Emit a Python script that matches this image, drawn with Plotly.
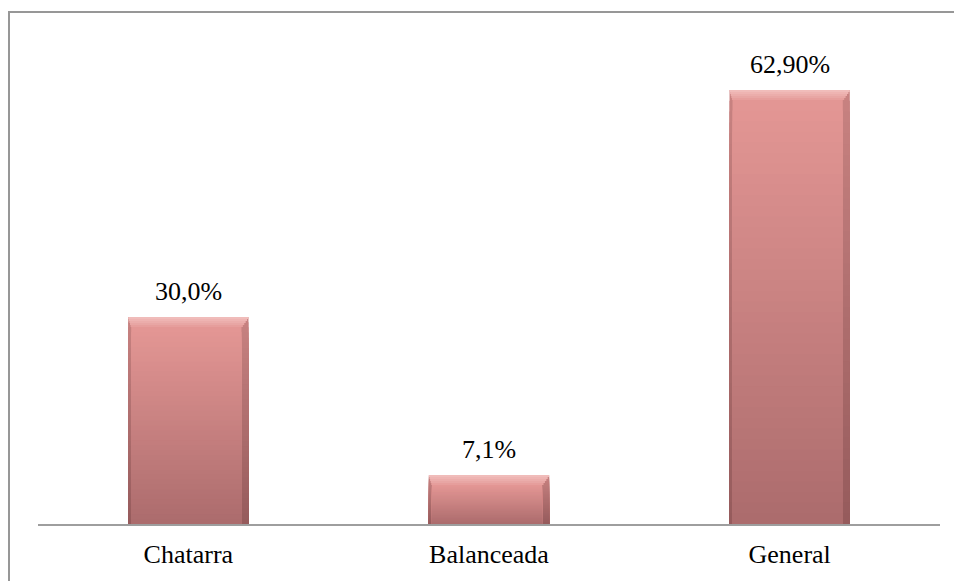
import plotly.graph_objects as go

categories = ["Chatarra", "Balanceada", "General"]
values = [30.0, 7.1, 62.9]
value_labels = ["30,0%", "7,1%", "62,90%"]

# Layout geometry (pixels)
W, H = 954, 581
M_L, M_R, M_T, M_B = 38, 14, 34, 57
PLOT_W = W - M_L - M_R
PLOT_H = H - M_T - M_B
Y_MAX = 71.0
PX_PER_UNIT = PLOT_H / Y_MAX
CAT_PX = PLOT_W / len(categories)

SERIF = "Liberation Serif"
FONT_SIZE = 26

BAR_W = 0.40
LEFT_PX, RIGHT_PX = 3, 7
TOP_PX = 10
left_w = LEFT_PX / CAT_PX
right_w = RIGHT_PX / CAT_PX
top_h = TOP_PX / PX_PER_UNIT

N = 40


def lerp(c1, c2, t):
    return "#%02x%02x%02x" % tuple(round(a + (b - a) * t) for a, b in zip(c1, c2))


INNER_TOP, INNER_BOT = (0xE3, 0x96, 0x94), (0xAC, 0x6C, 0x6D)
OUTER_TOP, OUTER_BOT = (0xC8, 0x82, 0x81), (0x96, 0x5B, 0x5C)
BEVEL_TOP, BEVEL_BOT = (0xF0, 0xBC, 0xBA), (0xE6, 0x9E, 0x9C)

fig = go.Figure()


def add_gradient(width, offset, top_trim, c_top, c_bot):
    # overlapping bars of decreasing height give a smooth top-to-bottom gradient
    for k in range(N):
        frac = (N - k) / N
        fig.add_trace(go.Bar(
            x=categories,
            y=[max(v - top_trim, 0) * frac for v in values],
            width=width,
            offset=offset,
            marker=dict(color=lerp(c_top, c_bot, k / (N - 1)), line=dict(width=0)),
            hoverinfo="skip",
            showlegend=False,
        ))


# darker outer body (visible as side edges)
add_gradient(BAR_W, -BAR_W / 2, 0, OUTER_TOP, OUTER_BOT)

# light bevel along the top, shaded in a few bands
NB = 5
for j in range(NB):
    fig.add_trace(go.Bar(
        x=categories,
        y=[top_h / NB] * len(values),
        base=[v - top_h + top_h * (NB - 1 - j) / NB for v in values],
        width=BAR_W - (left_w + right_w) * j / NB,
        offset=-BAR_W / 2 + left_w * j / NB,
        marker=dict(color=lerp(BEVEL_TOP, BEVEL_BOT, j / (NB - 1)), line=dict(width=0)),
        hoverinfo="skip",
        showlegend=False,
    ))

# inner face
add_gradient(BAR_W - left_w - right_w, -BAR_W / 2 + left_w, top_h, INNER_TOP, INNER_BOT)

for c, v, t in zip(categories, values, value_labels):
    fig.add_annotation(
        x=c, y=v, text=t, showarrow=False, yanchor="bottom", yshift=9,
        font=dict(family=SERIF, size=FONT_SIZE, color="#000000"),
    )

# outer chart frame
fig.add_shape(
    type="rect", xref="paper", yref="paper",
    x0=(9 - M_L) / PLOT_W, x1=(960 - M_L) / PLOT_W,
    y0=(H - M_B - 590) / PLOT_H, y1=(H - M_B - 12) / PLOT_H,
    line=dict(color="#979797", width=2), fillcolor="rgba(0,0,0,0)", layer="below",
)

fig.update_layout(
    width=W, height=H,
    margin=dict(l=M_L, r=M_R, t=M_T, b=M_B),
    paper_bgcolor="white", plot_bgcolor="white",
    barmode="overlay",
    bargap=0.6,
    showlegend=False,
    xaxis=dict(
        showline=True, linecolor="#9E9E9E", linewidth=2,
        showgrid=False, zeroline=False, ticks="",
        tickfont=dict(family=SERIF, size=FONT_SIZE, color="#000000"),
        ticklabelstandoff=6,
    ),
    yaxis=dict(
        range=[0, Y_MAX], visible=False, showgrid=False, zeroline=False,
    ),
)

fig.write_html("out.html")
